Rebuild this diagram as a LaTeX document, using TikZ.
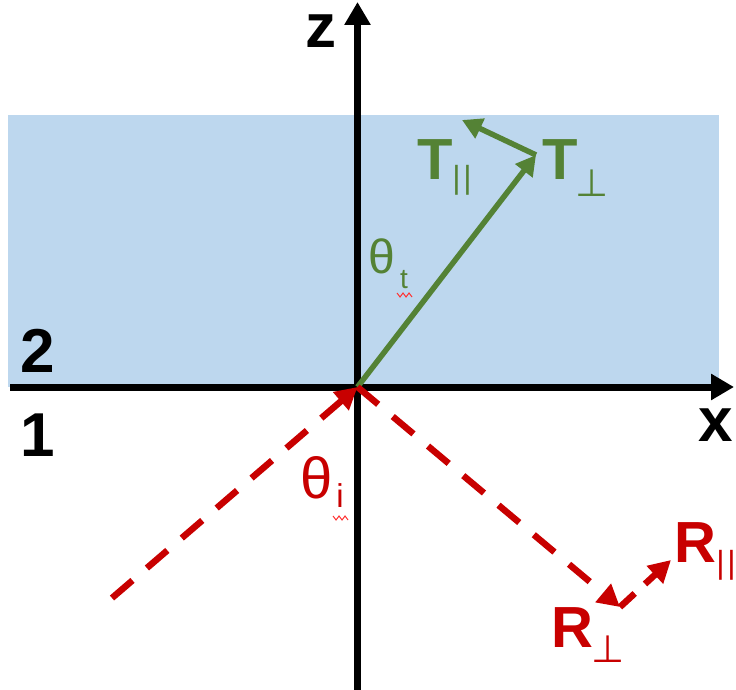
\documentclass[tikz,border=0pt]{standalone}
\usepackage{fontspec}
\setmainfont{Liberation Sans}
\newfontfamily\symfont{DejaVu Sans}
\usetikzlibrary{arrows.meta}
\definecolor{pane}{HTML}{BDD7EE}
\definecolor{tgreen}{HTML}{548235}
\definecolor{rred}{HTML}{C80000}
\tikzset{
  axis/.style={line width=7pt,-{Triangle[length=23pt,width=25pt]}},
  tray/.style={tgreen,line width=5.5pt,-{Triangle[length=20pt,width=21pt]}},
  rray/.style={rred,line width=6.5pt,dash pattern=on 27pt off 19pt,-{Triangle[length=22pt,width=23pt]}},
  big/.style={font=\fontsize{62}{62}\selectfont\bfseries,inner sep=0pt},
  lab/.style={font=\fontsize{58}{58}\selectfont\bfseries,inner sep=0pt},
  sub/.style={font=\fontsize{32}{32}\selectfont,inner sep=0pt},
  perpsub/.style={font=\fontsize{38}{38}\selectfont\symfont,inner sep=0pt},
  wig/.style={line width=1pt,red!80}
}
\begin{document}
\begin{tikzpicture}[x=1pt,y=-1pt]
\useasboundingbox (0,0) rectangle (736,690);
\fill[pane] (8,115) rectangle (719,387);
% axes
\coordinate (O) at (357.5,387);
\coordinate (xs) at (10,387);
\coordinate (xe) at (734,387);
\coordinate (zs) at (357.5,690);
\coordinate (ze) at (357.5,2);
\draw[axis] (xs) -- (xe);
\draw[axis] (zs) -- (ze);
\node[big] (zl) at (321,31) {z};
\node[big] (xl) at (716,425) {x};
\node[big] (m2) at (38,351) {2};
\node[big] (m1) at (38,435) {1};
% transmitted
\coordinate (T) at (536,155);
\coordinate (Tp) at (462,120);
\draw[tray] (O) -- (T);
\draw[tray] (T) -- (Tp);
\node[lab,tgreen] (Tl1) at (435,160) {T};
\node[sub,tgreen] (Tl1s) at (462,180) {|\kern2.5pt|};
\node[lab,tgreen] (Tl2) at (560,160) {T};
\node[perpsub,tgreen] (Tl2s) at (592,183) {⊥};
\node[font=\fontsize{48}{48}\selectfont,inner sep=0pt,tgreen] (tht) at (382,256) {θ};
\node[font=\fontsize{28}{28}\selectfont,inner sep=0pt,tgreen] (thts) at (404,280) {t};
\draw[wig] (397,293) -- (400,297) -- (403,293) -- (406,297) -- (409,293) -- (412,297);
% incident and reflected
\coordinate (I) at (112,598);
\coordinate (R) at (620,607);
\coordinate (Rp) at (671,560);
\draw[rray] (I) -- (O);
\draw[rray] (O) -- (R);
\draw[rray,dash pattern=on 20pt off 14pt] (R) -- (Rp);
\node[font=\fontsize{58}{58}\selectfont,inner sep=0pt,rred] (thi) at (317,478) {θ};
\node[font=\fontsize{33}{33}\selectfont,inner sep=0pt,rred] (this) at (340,496) {i};
\draw[wig] (333,516) -- (336,520) -- (339,516) -- (342,520) -- (345,516) -- (348,520);
\node[lab,rred] (Rl1) at (572,628) {R};
\node[perpsub,rred] (Rl1s) at (608,649) {⊥};
\node[lab,rred] (Rl2) at (695,543) {R};
\node[sub,rred] (Rl2s) at (726,565) {|\kern2.5pt|};
\end{tikzpicture}
\end{document}
